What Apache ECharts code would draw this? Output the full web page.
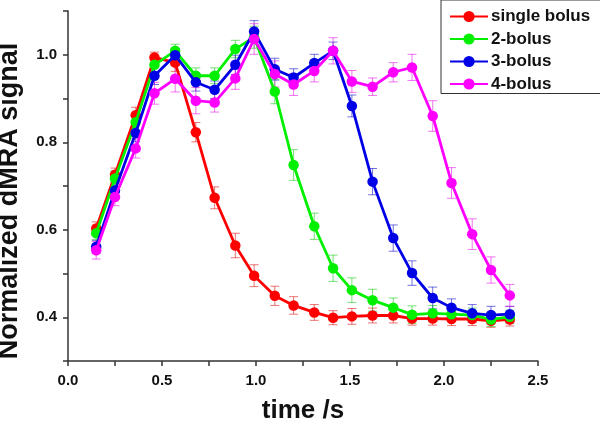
<!DOCTYPE html>
<html><head><meta charset="utf-8">
<script src="https://cdn.jsdelivr.net/npm/echarts@6/dist/echarts.min.js"></script>
<style>html,body{margin:0;padding:0;background:#fff}#c{width:600px;height:422px}</style>
</head><body><div id="c"></div>
<script>
const times = [0.15,0.25,0.36,0.46,0.57,0.68,0.78,0.89,0.99,1.10,1.20,1.31,1.41,1.51,1.62,1.73,1.83,1.94,2.04,2.15,2.25,2.35];
const seriesNames = ['single bolus','2-bolus','3-bolus','4-bolus'];
const singleBolus = [0.603,0.726,0.862,0.994,0.982,0.823,0.673,0.564,0.495,0.449,0.427,0.411,0.399,0.402,0.404,0.404,0.397,0.397,0.396,0.396,0.392,0.395];
const twoBolus    = [0.592,0.717,0.846,0.977,1.009,0.952,0.952,1.013,1.040,0.916,0.748,0.608,0.512,0.462,0.439,0.422,0.406,0.409,0.407,0.405,0.395,0.401];
const threeBolus  = [0.561,0.690,0.821,0.952,0.999,0.937,0.920,0.977,1.053,0.967,0.948,0.981,1.009,0.883,0.710,0.581,0.501,0.444,0.422,0.409,0.405,0.407];
const fourBolus   = [0.553,0.675,0.786,0.912,0.945,0.895,0.891,0.946,1.036,0.956,0.932,0.963,1.009,0.939,0.927,0.960,0.971,0.860,0.707,0.590,0.508,0.450];
const singleErr = [0.015,0.015,0.018,0.012,0.02,0.022,0.025,0.028,0.025,0.022,0.02,0.018,0.016,0.018,0.017,0.017,0.015,0.015,0.015,0.015,0.015,0.015];
const twoErr    = [0.015,0.018,0.02,0.02,0.015,0.018,0.018,0.02,0.025,0.028,0.035,0.03,0.03,0.028,0.025,0.022,0.02,0.018,0.016,0.016,0.016,0.015];
const threeErr  = [0.015,0.018,0.02,0.02,0.015,0.02,0.02,0.022,0.025,0.025,0.02,0.02,0.02,0.025,0.03,0.03,0.028,0.025,0.02,0.02,0.02,0.018];
const fourErr   = [0.02,0.02,0.022,0.025,0.03,0.03,0.022,0.025,0.035,0.03,0.025,0.025,0.03,0.025,0.02,0.022,0.03,0.035,0.035,0.035,0.03,0.025];
const colors = ['#ff0000','#00f000','#0000e6','#ff00ff'];
const errColors = ['rgba(220,0,0,0.55)','rgba(0,200,0,0.55)','rgba(0,0,200,0.55)','rgba(230,0,230,0.55)'];
const yTickLabels = ['0.4','0.6','0.8','1.0'];
const xTickLabels = ['0.0','0.5','1.0','1.5','2.0','2.5'];

const allY = [singleBolus, twoBolus, threeBolus, fourBolus];
const allE = [singleErr, twoErr, threeErr, fourErr];
const FONT = '"Liberation Sans", Arial, sans-serif';

const series = [];
seriesNames.forEach((name, k) => {
  series.push({
    name: 'err' + k, type: 'custom', z: 2, silent: true,
    data: times.map((t, i) => [t, allY[k][i], allE[k][i]]),
    renderItem: (params, api) => {
      const x = api.value(0), y = api.value(1), e = api.value(2);
      const a = api.coord([x, y + e]), b = api.coord([x, y - e]);
      const hw = 4.5, st = {stroke: errColors[k], lineWidth: 1};
      return {type: 'group', children: [
        {type: 'line', shape: {x1: a[0], y1: a[1], x2: b[0], y2: b[1]}, style: st},
        {type: 'line', shape: {x1: a[0]-hw, y1: a[1], x2: a[0]+hw, y2: a[1]}, style: st},
        {type: 'line', shape: {x1: b[0]-hw, y1: b[1], x2: b[0]+hw, y2: b[1]}, style: st}
      ]};
    }
  });
  series.push({
    name, type: 'line', z: 3 + k,
    data: times.map((t, i) => [t, allY[k][i]]),
    symbol: 'circle', symbolSize: 10.5,
    lineStyle: {color: colors[k], width: 2.8},
    itemStyle: {color: colors[k]}
  });
});

const chart = echarts.init(document.getElementById('c'));
chart.setOption({
  animation: false,
  backgroundColor: '#fff',
  grid: {left: 68, right: 62, top: 11, bottom: 61, containLabel: false, outerBoundsMode: 'none'},
  legend: {
    data: seriesNames, left: 441, top: 0, orient: 'vertical',
    padding: [8, 12, 1, 8], itemGap: 5.5, itemWidth: 38, itemHeight: 14,
    borderColor: '#333', borderWidth: 1, borderRadius: 0,
    textStyle: {fontFamily: FONT, fontWeight: 'bold', fontSize: 17, lineHeight: 17, color: '#111', padding: [0,0,0,-2]}
  },
  xAxis: {
    type: 'value', min: 0, max: 2.5, interval: 0.25,
    name: 'time /s', nameLocation: 'middle', nameGap: 37,
    nameTextStyle: {fontFamily: FONT, fontWeight: 'bold', fontSize: 26, color: '#111'},
    axisLine: {lineStyle: {color: '#333', width: 1.5}},
    axisTick: {length: 5, lineStyle: {color: '#333', width: 1.5}},
    splitLine: {show: false},
    axisLabel: {
      margin: 12, fontFamily: FONT, fontWeight: 'bold', fontSize: 15, color: '#111',
      formatter: v => { const s = v.toFixed(1); return xTickLabels.includes(s) && Math.abs(v*2 - Math.round(v*2)) < 1e-6 ? s : ''; }
    }
  },
  yAxis: {
    type: 'value', min: 0.3, max: 1.1, interval: 0.1,
    axisLine: {show: true, lineStyle: {color: '#333', width: 1.5}},
    axisTick: {show: true, length: 5, lineStyle: {color: '#333', width: 1.5}},
    splitLine: {show: false},
    axisLabel: {
      margin: 11, fontFamily: FONT, fontWeight: 'bold', fontSize: 15, color: '#111',
      formatter: v => { const s = v.toFixed(1); return yTickLabels.includes(s) ? s : ''; }
    }
  },
  graphic: [{
    type: 'text', x: 10, y: 201, rotation: Math.PI / 2,
    style: {text: 'Normalized dMRA signal', fontFamily: FONT, fontWeight: 'bold', fontSize: 27,
      fill: '#111', textAlign: 'center', textVerticalAlign: 'middle'}
  }],
  series
});
</script></body></html>
